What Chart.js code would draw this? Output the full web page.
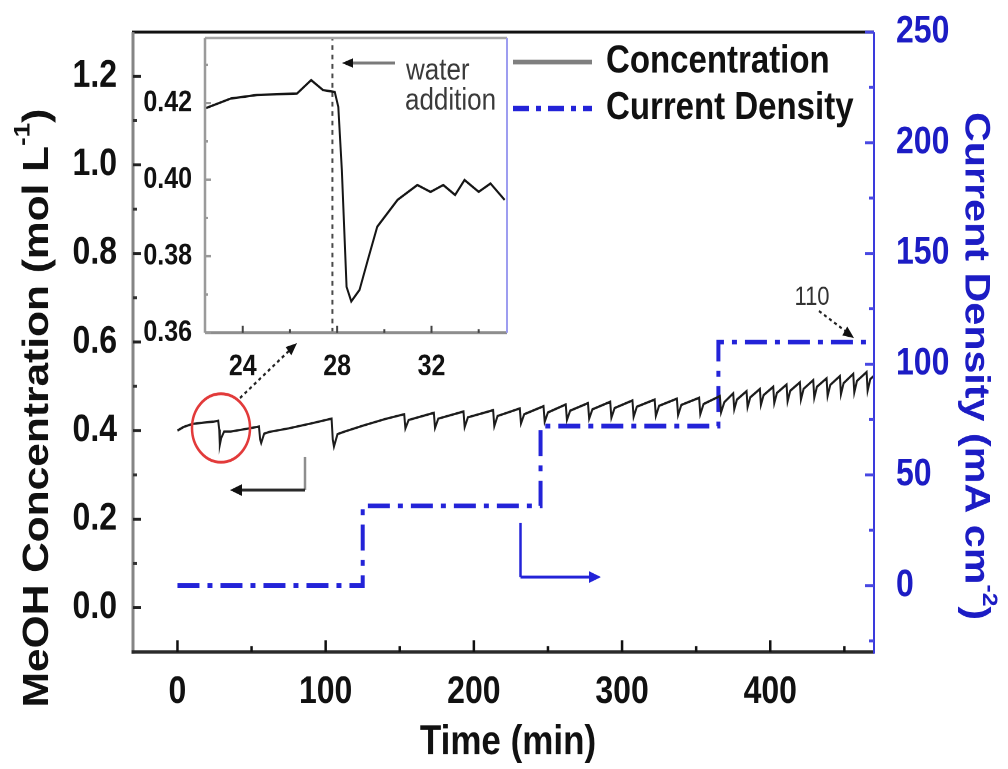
<!DOCTYPE html>
<html>
<head>
<meta charset="utf-8">
<title>MeOH concentration and current density vs time</title>
<script src="https://cdn.jsdelivr.net/npm/chart.js@4/dist/chart.umd.min.js"></script>
<style>
  html, body { margin: 0; padding: 0; background: #fff; }
  #wrap { position: relative; width: 1008px; height: 769px; overflow: hidden; background: #fff; }
  #main { position: absolute; left: 0; top: 0; }
  #inset { position: absolute; left: 140px; top: 30px; }
</style>
</head>
<body>
<div id="wrap">
  <canvas id="main" width="1008" height="652"></canvas>
  <canvas id="inset" width="380" height="297"></canvas>
</div>
<script>
// ---------------- data ----------------
const timeTicks = [0, 100, 200, 300, 400];
const timeMinorTicks = [50, 150, 250, 350, 450];
const concTicks = [0, 0.2, 0.4, 0.6, 0.8, 1.0, 1.2];
const concMinorTicks = [0.1, 0.3, 0.5, 0.7, 0.9, 1.1];
const currentTicks = [0, 50, 100, 150, 200, 250];
const currentMinorTicks = [-25, 25, 75, 125, 175, 225];

// MeOH concentration (mol/L) against time (min)
const concTime = [
  0, 4, 10, 18, 24, 27.5, 28.2, 28.6, 29.5, 31.5,
  36, 45, 55, 55.8, 56.5, 58.5, 62, 75, 90, 104,
  104.8, 105.6, 108, 113, 125, 140, 153,
  153.8, 156, 173, 173.8, 176, 193, 193.8, 196, 213, 213.8, 216,
  231, 231.8, 234, 247, 247.8, 250, 262, 262.8, 265, 277, 277.8, 280,
  292, 292.8, 295, 307, 307.8, 310, 322, 322.8, 325, 337, 337.8, 340,
  352, 352.8, 355, 366, 366.8, 369,
  375, 375.7, 377.5, 384, 384.7, 386.5, 393, 393.7, 395.5, 402, 402.7, 404.5,
  411, 411.7, 413.5, 420, 420.7, 422.5, 429, 429.7, 431.5, 438, 438.7, 440.5,
  447, 447.7, 449.5, 456, 456.7, 458.5, 465, 465.7, 467.5, 470
];
const concValue = [
  0.400, 0.408, 0.415, 0.418, 0.420, 0.422, 0.402, 0.368, 0.383, 0.398,
  0.398, 0.403, 0.409, 0.380, 0.372, 0.393, 0.397, 0.405, 0.416, 0.427,
  0.380, 0.364, 0.392, 0.398, 0.411, 0.426, 0.437,
  0.405, 0.424, 0.440, 0.406, 0.427, 0.443, 0.408, 0.430, 0.446, 0.410, 0.433,
  0.450, 0.416, 0.437, 0.455, 0.420, 0.441, 0.459, 0.424, 0.445, 0.462, 0.427, 0.448,
  0.465, 0.429, 0.451, 0.468, 0.431, 0.454, 0.470, 0.433, 0.456, 0.472, 0.435, 0.458,
  0.474, 0.437, 0.460, 0.478, 0.441, 0.464,
  0.484, 0.448, 0.470, 0.489, 0.453, 0.475, 0.494, 0.458, 0.480, 0.499, 0.462, 0.485,
  0.504, 0.466, 0.490, 0.509, 0.470, 0.494, 0.514, 0.474, 0.499, 0.518, 0.478, 0.503,
  0.523, 0.482, 0.507, 0.528, 0.486, 0.512, 0.532, 0.490, 0.516, 0.524
];

// applied current density (mA/cm2), held constant from each start time
const stepTime = [0, 125, 245, 365, 470];
const stepCurrent = [0, 36, 72, 110, 110];

// close-up around the first water addition
const insetTime = [
  22.45, 23.5, 24.6, 26.3, 26.9, 27.4, 27.9, 28.05, 28.2, 28.4, 28.6, 28.95,
  29.3, 29.7, 30.56, 31.4, 31.96, 32.5, 33.0, 33.4, 34.0, 34.5, 35.1
];
const insetConc = [
  0.4187, 0.4212, 0.4221, 0.4225, 0.4260, 0.4234, 0.4229, 0.4190, 0.4025, 0.3720, 0.3682, 0.3712,
  0.3790, 0.3877, 0.3947, 0.3986, 0.3968, 0.3986, 0.3960, 0.3999, 0.3968, 0.3990, 0.3947
];
const insetTimeTicks = [24, 28, 32];
const insetTimeMinorTicks = [26, 30, 34];
const insetConcTicks = [0.36, 0.38, 0.40, 0.42];
const insetConcMinorTicks = [0.37, 0.39, 0.41, 0.43];
const waterAdditionTime = 27.8;

// ---------------- drawing ----------------
const FAMILY = "'Liberation Sans', Arial, Helvetica, sans-serif";
// Both canvases are drawn at a reduced height and stretched vertically in CSS,
// which gives the tall, narrow lettering of the figure.
const PAGE_H = 769, CANVAS_H = 652;
const STRETCH = PAGE_H / CANVAS_H;
const vy = v => v / STRETCH;             // page y -> main canvas y
const INSET_LEFT = 140, INSET_TOP = 30, INSET_W = 380, INSET_H = 297;
const ivy = v => (v - INSET_TOP) / STRETCH;  // page y -> inset canvas y
const ivx = v => v - INSET_LEFT;             // page x -> inset canvas x

const BLUE = '#2323d8';
const BLUE_TEXT = '#1c1cc4';

const mainCanvas = document.getElementById('main');
mainCanvas.style.width = '1008px';
mainCanvas.style.height = PAGE_H + 'px';
const insetCanvas = document.getElementById('inset');
insetCanvas.style.width = INSET_W + 'px';
insetCanvas.style.height = (INSET_H * STRETCH) + 'px';

function seg(ctx, x1, y1, x2, y2, color, w, dash) {
  ctx.save();
  ctx.beginPath();
  ctx.strokeStyle = color;
  ctx.lineWidth = w;
  ctx.setLineDash(dash || []);
  ctx.moveTo(x1, y1);
  ctx.lineTo(x2, y2);
  ctx.stroke();
  ctx.restore();
}
function arrowHead(ctx, x1, y1, x2, y2, color, len, half) {
  const a = Math.atan2(y2 - y1, x2 - x1);
  const c = Math.cos(a), s = Math.sin(a);
  ctx.save();
  ctx.fillStyle = color;
  ctx.beginPath();
  ctx.moveTo(x2, y2);
  ctx.lineTo(x2 - len * c + half * s, y2 - len * s - half * c);
  ctx.lineTo(x2 - len * c - half * s, y2 - len * s + half * c);
  ctx.closePath();
  ctx.fill();
  ctx.restore();
}
// centred text made of normal and superscript pieces
function richText(ctx, parts, cx, cy, rot, size, color) {
  const norm = `bold ${size}px ${FAMILY}`;
  const sup = `bold ${Math.round(size * 0.6)}px ${FAMILY}`;
  ctx.save();
  ctx.translate(cx, cy);
  ctx.rotate(rot);
  ctx.fillStyle = color;
  ctx.textBaseline = 'middle';
  ctx.textAlign = 'left';
  let total = 0;
  const widths = parts.map(p => { ctx.font = p.sup ? sup : norm; const w = ctx.measureText(p.t).width; total += w; return w; });
  let x = -total / 2;
  parts.forEach((p, i) => {
    ctx.font = p.sup ? sup : norm;
    ctx.fillText(p.t, x, p.sup ? -size * 0.4 : 0);
    x += widths[i];
  });
  ctx.restore();
}

const fixedTicks = list => scale => { scale.ticks = list.map(v => ({ value: v })); };
const noPadding = s => { s.paddingTop = 0; s.paddingBottom = 0; s.paddingLeft = 0; s.paddingRight = 0; };

const mainDecor = {
  id: 'mainDecor',
  afterDraw(chart) {
    const { ctx, chartArea: a, scales: { x, y, y2 } } = chart;
    ctx.save();
    // frame
    seg(ctx, a.left - 1, a.top, a.right, a.top, '#111', 2.5);
    seg(ctx, a.left, a.top, a.left, a.bottom + 1.5, '#858585', 3);
    seg(ctx, a.left - 1.5, a.bottom, a.right, a.bottom, '#2a2a2a', 3);
    seg(ctx, a.right, a.top, a.right, a.bottom + 1.5, '#3a3adc', 2);
    // inward tick marks
    timeTicks.forEach(v => { const p = x.getPixelForValue(v); seg(ctx, p, a.bottom, p, a.bottom - 10, '#111', 2.5); });
    timeMinorTicks.forEach(v => { const p = x.getPixelForValue(v); seg(ctx, p, a.bottom, p, a.bottom - 5, '#111', 2.5); });
    concTicks.forEach(v => { const p = y.getPixelForValue(v); seg(ctx, a.left, p, a.left + 8, p, '#222', 2.5); });
    concMinorTicks.forEach(v => { const p = y.getPixelForValue(v); seg(ctx, a.left, p, a.left + 4, p, '#333', 2.5); });
    currentTicks.forEach(v => { const p = y2.getPixelForValue(v); seg(ctx, a.right, p, a.right - 9, p, '#4848e2', 2.5); });
    currentMinorTicks.forEach(v => { const p = y2.getPixelForValue(v); seg(ctx, a.right, p, a.right - 5, p, '#4848e2', 2.5); });

    // axis titles
    richText(ctx, [{ t: 'MeOH Concentration (mol L' }, { t: '-1', sup: true }, { t: ')' }], 38, vy(408), -Math.PI / 2, 36, '#111');
    richText(ctx, [{ t: 'Current Density (mA cm' }, { t: '-2', sup: true }, { t: ')' }], 975, vy(366), Math.PI / 2, 35, BLUE_TEXT);
    richText(ctx, [{ t: 'Time (min)' }], 508, vy(743), 0, 35, '#111');

    // legend
    const ds = chart.data.datasets;
    seg(ctx, 513, vy(62), 592, vy(62), '#7f7f7f', 4);
    seg(ctx, 513, vy(108.5), 592, vy(108.5), ds[1].borderColor, 4.5, [16, 7, 5, 7]);
    ctx.fillStyle = '#111';
    ctx.font = `bold 33px ${FAMILY}`;
    ctx.textBaseline = 'middle';
    ctx.textAlign = 'left';
    ctx.fillText(ds[0].label, 606, vy(62));
    ctx.fillText(ds[1].label, 606, vy(108.5));

    // highlighted water addition and pointer to the close-up
    ctx.beginPath();
    ctx.strokeStyle = '#e23a3a';
    ctx.lineWidth = 2.5;
    ctx.arc(221, vy(428), 29, 0, Math.PI * 2);
    ctx.stroke();
    seg(ctx, 240, vy(398), 293, vy(347), '#222', 2, [3, 3]);
    arrowHead(ctx, 240, vy(398), 297, vy(343), '#111', 11, 4.5);

    // axis pointers
    seg(ctx, 305, vy(457), 305, vy(490), '#8e8e8e', 2.5);
    seg(ctx, 305, vy(490), 240, vy(490), '#2a2a2a', 2.5);
    arrowHead(ctx, 305, vy(490), 230, vy(490), '#111', 12, 5);
    seg(ctx, 520.5, vy(523), 520.5, vy(577), BLUE, 2.5);
    seg(ctx, 520.5, vy(577), 592, vy(577), BLUE, 2.5);
    arrowHead(ctx, 520.5, vy(577), 601, vy(577), BLUE, 12, 5);

    // final current density label
    ctx.fillStyle = '#333';
    ctx.font = `22px ${FAMILY}`;
    ctx.textAlign = 'center';
    ctx.fillText(String(stepCurrent[stepCurrent.length - 1]), 812, vy(298));
    seg(ctx, 819, vy(311), 848, vy(333), '#222', 2, [3, 3]);
    arrowHead(ctx, 819, vy(311), 854, vy(338), '#111', 11, 4.5);
    ctx.restore();
  }
};

new Chart(mainCanvas, {
  type: 'line',
  data: {
    datasets: [
      {
        label: 'Concentration',
        data: concTime.map((t, i) => ({ x: t, y: concValue[i] })),
        yAxisID: 'y',
        borderColor: '#1c1c1c',
        borderWidth: 2,
        pointRadius: 0,
        tension: 0,
        fill: false
      },
      {
        label: 'Current Density',
        data: stepTime.map((t, i) => ({ x: t, y: stepCurrent[i] })),
        yAxisID: 'y2',
        // level holds until the next start time, then rises
        stepped: 'before',
        borderColor: BLUE,
        borderWidth: 4,
        borderDash: [22, 8, 5, 8],
        pointRadius: 0,
        fill: false
      }
    ]
  },
  options: {
    responsive: false,
    devicePixelRatio: 2,
    animation: false,
    events: [],
    layout: { padding: { top: vy(32), left: 0, right: 0, bottom: 0 } },
    plugins: { legend: { display: false }, tooltip: { enabled: false }, title: { display: false } },
    scales: {
      x: {
        type: 'linear', position: 'bottom', min: -30, max: 470,
        grid: { display: false }, border: { display: false },
        afterBuildTicks: fixedTicks(timeTicks),
        afterFit: s => { s.height = CANVAS_H - vy(652); noPadding(s); },
        ticks: { autoSkip: false, maxRotation: 0, padding: 7, color: '#111',
                 font: { family: FAMILY, size: 32, weight: 'bold' }, callback: v => String(v) }
      },
      y: {
        type: 'linear', position: 'left', min: -0.1, max: 1.3,
        grid: { display: false }, border: { display: false },
        afterBuildTicks: fixedTicks(concTicks),
        afterFit: s => { s.width = 133; noPadding(s); },
        ticks: { autoSkip: false, padding: 8, color: '#111',
                 font: { family: FAMILY, size: 32, weight: 'bold' }, callback: v => Number(v).toFixed(1) }
      },
      y2: {
        type: 'linear', position: 'right', min: -30, max: 250,
        grid: { display: false }, border: { display: false },
        afterBuildTicks: fixedTicks(currentTicks),
        afterFit: s => { s.width = 1008 - 874; noPadding(s); },
        ticks: { autoSkip: false, padding: 14, color: BLUE_TEXT,
                 font: { family: FAMILY, size: 32, weight: 'bold' }, callback: v => String(v) }
      }
    }
  },
  plugins: [mainDecor]
});

// ---------------- close-up ----------------
const insetDecor = {
  id: 'insetDecor',
  beforeDatasetsDraw(chart) {
    const { ctx, chartArea: a } = chart;
    ctx.save();
    ctx.fillStyle = '#fff';
    ctx.fillRect(a.left, a.top, a.right - a.left, a.bottom - a.top);
    ctx.restore();
  },
  afterDraw(chart) {
    const { ctx, chartArea: a, scales: { x, y } } = chart;
    seg(ctx, a.left, a.top, a.right, a.top, '#a6a6a6', 2);
    seg(ctx, a.left, a.top, a.left, a.bottom, '#9a9a9a', 2.5);
    seg(ctx, a.left, a.bottom, a.right, a.bottom, '#8e8e8e', 2.5);
    seg(ctx, a.right, a.top, a.right, a.bottom, '#9d9df0', 2);
    insetTimeTicks.forEach(v => { const p = x.getPixelForValue(v); seg(ctx, p, a.bottom, p, a.bottom - 6, '#444', 2); });
    insetTimeMinorTicks.forEach(v => { const p = x.getPixelForValue(v); seg(ctx, p, a.bottom, p, a.bottom - 3, '#444', 2); });
    insetConcTicks.forEach(v => { const p = y.getPixelForValue(v); seg(ctx, a.left, p, a.left + 6, p, '#999', 2); });
    insetConcMinorTicks.forEach(v => { const p = y.getPixelForValue(v); seg(ctx, a.left, p, a.left + 3, p, '#999', 2); });

    // "water addition" note with arrow toward the dashed marker
    const ay = ivy(63);
    seg(ctx, ivx(395), ay, ivx(352), ay, '#7a7a7a', 2.5);
    arrowHead(ctx, ivx(395), ay, ivx(342), ay, '#111', 11, 4);
    ctx.save();
    ctx.fillStyle = '#3a3a3a';
    ctx.font = `26px ${FAMILY}`;
    ctx.textBaseline = 'middle';
    ctx.textAlign = 'left';
    ctx.fillText('water', ivx(406), ivy(71));
    ctx.fillText('addition', ivx(405), ivy(101));
    ctx.restore();
  }
};

const insetMin = 0.36, insetMax = 0.437;
new Chart(insetCanvas, {
  type: 'line',
  data: {
    datasets: [
      {
        label: 'Concentration',
        data: insetTime.map((t, i) => ({ x: t, y: insetConc[i] })),
        borderColor: '#151515',
        borderWidth: 2,
        pointRadius: 0,
        tension: 0,
        fill: false
      },
      {
        label: 'water addition',
        data: [{ x: waterAdditionTime, y: insetMin }, { x: waterAdditionTime, y: insetMax }],
        borderColor: '#4a4a4a',
        borderWidth: 2,
        borderDash: [4, 4],
        pointRadius: 0,
        fill: false
      }
    ]
  },
  options: {
    responsive: false,
    devicePixelRatio: 2,
    animation: false,
    events: [],
    layout: { padding: { top: ivy(38), right: INSET_W - ivx(507), left: 0, bottom: 0 } },
    plugins: { legend: { display: false }, tooltip: { enabled: false }, title: { display: false } },
    scales: {
      x: {
        type: 'linear', min: 22.4, max: 35.2,
        grid: { display: false }, border: { display: false },
        afterBuildTicks: fixedTicks(insetTimeTicks),
        afterFit: s => { s.height = INSET_H - ivy(333); noPadding(s); },
        ticks: { autoSkip: false, maxRotation: 0, padding: 6, color: '#111',
                 font: { family: FAMILY, size: 25, weight: 'bold' }, callback: v => String(v) }
      },
      y: {
        type: 'linear', min: insetMin, max: insetMax,
        grid: { display: false }, border: { display: false },
        afterBuildTicks: fixedTicks(insetConcTicks),
        afterFit: s => { s.width = ivx(205); noPadding(s); },
        ticks: { autoSkip: false, padding: 5, color: '#111',
                 font: { family: FAMILY, size: 25, weight: 'bold' }, callback: v => Number(v).toFixed(2) }
      }
    }
  },
  plugins: [insetDecor]
});
</script>
</body>
</html>
